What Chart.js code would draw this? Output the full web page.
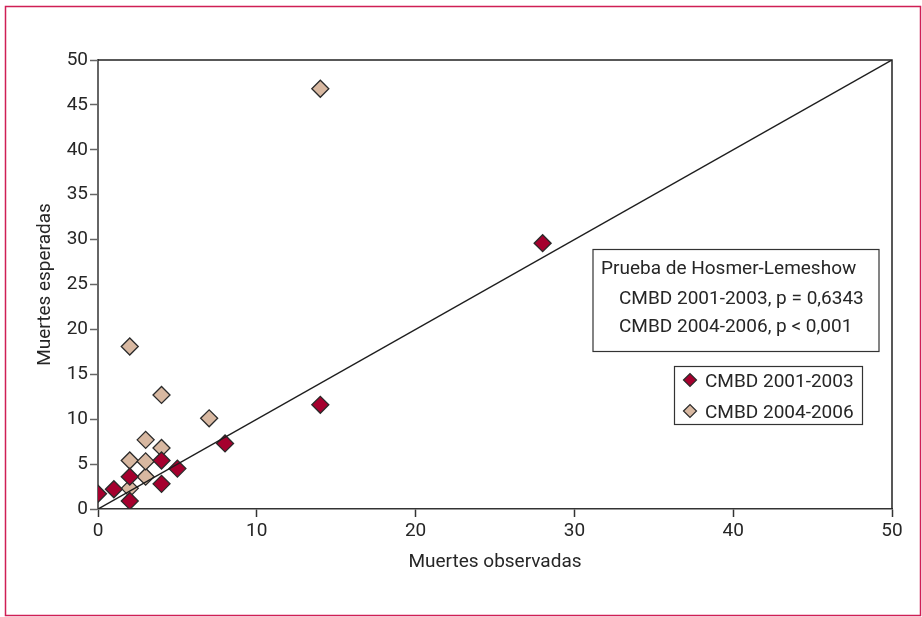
<!DOCTYPE html>
<html>
<head>
<meta charset="utf-8">
<script src="https://cdn.jsdelivr.net/npm/chart.js@4.4.0/dist/chart.umd.min.js"></script>
<style>
  html, body { margin: 0; padding: 0; background: #fff; }
  #wrap { width: 922px; height: 617px; }
</style>
</head>
<body>
<div id="wrap"><canvas id="chart" width="922" height="617"></canvas></div>
<script>
const obs2001 = [0, 1, 2, 2, 4, 4, 5, 8, 14, 28];
const exp2001 = [1.7, 2.2, 0.9, 3.6, 2.8, 5.4, 4.5, 7.3, 11.6, 29.6];
const obs2004 = [2, 2, 2, 3, 3, 3, 4, 4, 7, 14];
const exp2004 = [2.3, 5.4, 18.1, 3.6, 5.3, 7.7, 6.8, 12.7, 10.1, 46.8];
const refLine = [0, 50];

const seriesLabels = ["CMBD 2001-2003", "CMBD 2004-2006"];
const testTitle = "Prueba de Hosmer-Lemeshow";
const testLines = ["CMBD 2001-2003, p = 0,6343", "CMBD 2004-2006, p < 0,001"];

const FONT = "Roboto, 'Liberation Sans', sans-serif";
const INK = "#262626";
const RED = "#a5002e";
const TAN = "#d8b8a1";
const EDGE = "#2a2a2a";

function toPoints(xs, ys) {
  return xs.map((x, i) => ({ x: x, y: ys[i] }));
}

function diamond(ctx, x, y, r, fill) {
  ctx.beginPath();
  ctx.moveTo(x - r, y);
  ctx.lineTo(x, y - r);
  ctx.lineTo(x + r, y);
  ctx.lineTo(x, y + r);
  ctx.closePath();
  ctx.fillStyle = fill;
  ctx.fill();
  ctx.strokeStyle = EDGE;
  ctx.lineWidth = 1.2;
  ctx.stroke();
}

// frame, plot box, test box and legend
const decor = {
  id: "decor",
  beforeDraw(chart) {
    const ctx = chart.ctx;
    ctx.save();
    ctx.fillStyle = "#fff";
    ctx.fillRect(0, 0, chart.width, chart.height);
    ctx.strokeStyle = "#cf1f55";
    ctx.lineWidth = 1.5;
    ctx.strokeRect(5.5, 6.5, chart.width - 7, chart.height - 8);
    ctx.restore();
  },
  afterDraw(chart) {
    const ctx = chart.ctx;
    const ca = chart.chartArea;
    ctx.save();

    // top + right sides of plot box
    ctx.strokeStyle = "#222";
    ctx.lineWidth = 1.5;
    ctx.beginPath();
    ctx.moveTo(ca.left, ca.top);
    ctx.lineTo(ca.right, ca.top);
    ctx.lineTo(ca.right, ca.bottom);
    ctx.stroke();

    ctx.font = "19px " + FONT;
    ctx.fillStyle = INK;
    ctx.textBaseline = "alphabetic";
    ctx.textAlign = "left";

    // Hosmer-Lemeshow box
    ctx.strokeStyle = "#333";
    ctx.lineWidth = 1.2;
    ctx.strokeRect(593, 249.5, 286, 102);
    ctx.fillText(testTitle, 601, 274);
    ctx.fillText(testLines[0], 619, 303.5);
    ctx.fillText(testLines[1], 619, 332);

    // legend
    ctx.strokeRect(674.5, 366.5, 188, 58);
    const fills = [RED, TAN];
    seriesLabels.forEach((lab, i) => {
      const cy = 380 + i * 31;
      diamond(ctx, 690, cy, 6.5, fills[i]);
      ctx.fillStyle = INK;
      ctx.fillText(lab, 705, cy + 7);
    });

    ctx.restore();
  }
};

const ctx = document.getElementById("chart").getContext("2d");

new Chart(ctx, {
  type: "scatter",
  data: {
    datasets: [
      {
        type: "line",
        label: "ref",
        data: toPoints(refLine, refLine),
        borderColor: "#1e1e1e",
        borderWidth: 1.5,
        pointRadius: 0,
        order: 0
      },
      {
        label: seriesLabels[0],
        data: toPoints(obs2001, exp2001),
        pointStyle: "rectRot",
        pointRadius: 8.5,
        backgroundColor: RED,
        borderColor: EDGE,
        borderWidth: 1.3,
        order: 1
      },
      {
        label: seriesLabels[1],
        data: toPoints(obs2004, exp2004),
        pointStyle: "rectRot",
        pointRadius: 8.5,
        backgroundColor: TAN,
        borderColor: EDGE,
        borderWidth: 1.3,
        order: 2
      }
    ]
  },
  options: {
    responsive: false,
    animation: false,
    layout: { padding: { top: 60, right: 30, left: 0, bottom: 0 } },
    plugins: {
      legend: { display: false },
      tooltip: { enabled: false }
    },
    scales: {
      x: {
        type: "linear",
        min: 0,
        max: 50,
        ticks: { stepSize: 10, padding: 3, color: INK, font: { family: FONT, size: 19 } },
        grid: { drawOnChartArea: false, tickLength: 8, tickColor: "#333", tickWidth: 1.5 },
        border: { color: "#333", width: 1.5 },
        title: {
          display: true,
          text: "Muertes observadas",
          color: INK,
          font: { family: FONT, size: 19 },
          padding: { top: 0, bottom: 43 }
        },
        afterFit(scale) { scale.height = 108; }
      },
      y: {
        type: "linear",
        min: 0,
        max: 50,
        ticks: { stepSize: 5, padding: 2, color: INK, font: { family: FONT, size: 19 } },
        grid: { drawOnChartArea: false, tickLength: 8, tickColor: "#666", tickWidth: 1.5 },
        border: { color: "#666", width: 2 },
        title: {
          display: true,
          text: "Muertes esperadas",
          color: INK,
          font: { family: FONT, size: 19 },
          padding: { top: 34, bottom: 0 }
        },
        afterFit(scale) { scale.width = 98; }
      }
    }
  },
  plugins: [decor]
});
</script>
</body>
</html>
